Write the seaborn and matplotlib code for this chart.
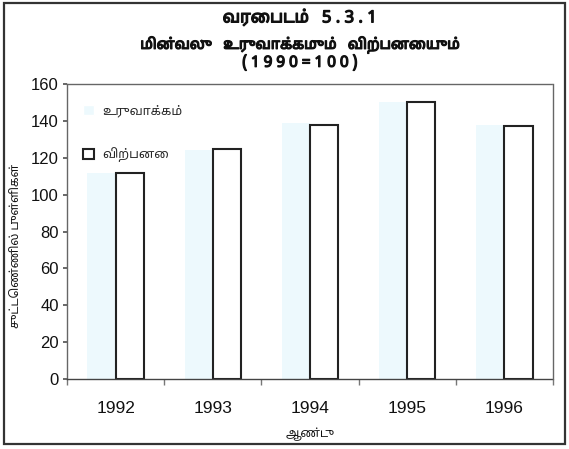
import matplotlib
matplotlib.use("Agg")
import matplotlib.pyplot as plt
import matplotlib.patheffects as pe
from matplotlib.patches import Rectangle
from matplotlib.ticker import FixedLocator
import seaborn as sns
import pandas as pd

# ---- data ----
years = ["1992", "1993", "1994", "1995", "1996"]
production = [112, 124, 139, 150, 138]   # உருவாக்கம் (very faint bars)
sales = [112, 125, 138, 150, 137]        # விற்பனை
series_names = ["உருவாக்கம்", "விற்பனை"]
yticks = [0, 20, 40, 60, 80, 100, 120, 140, 160]

title_lines = ["வரைபடம்   5 . 3 . 1", "மின்வலு   உருவாக்கமும்   விற்பனையும்",
               "( 1 9 9 0 = 1 0 0 )"]
xlabel = "ஆண்டு"
ylabel = "சுட்டெண்ணில் புள்ளிகள்"

df = pd.DataFrame({
    "year": years * 2,
    "value": production + sales,
    "series": [series_names[0]] * len(years) + [series_names[1]] * len(years),
})

sns.set_theme(style="white")
plt.rcParams["font.family"] = ["Liberation Sans", "DejaVu Sans"]

TAMIL = ["Noto Sans Tamil", "DejaVu Sans"]

fig = plt.figure(figsize=(5.69, 4.49), dpi=100, facecolor="white")
ax = fig.add_axes([67 / 569, 1 - 379 / 449, (553 - 67) / 569, (379 - 84) / 449])

sns.barplot(data=df, x="year", y="value", hue="series",
            palette=["#edf9fd", "#ffffff"], width=0.58, saturation=1,
            dodge=True, ax=ax, legend=True)

for i, cont in enumerate(ax.containers):
    for p in cont:
        if i == 0:
            p.set_edgecolor("none")
            p.set_linewidth(0)
        else:
            p.set_edgecolor("#222222")
            p.set_linewidth(1.5)

ax.set_ylim(0, 160)
ax.set_xlim(-0.5, len(years) - 0.5)
ax.set_yticks(yticks)
ax.tick_params(axis="y", labelsize=12, length=3, direction="out", pad=3,
               color="#555555", labelcolor="#111111", left=True)
ax.tick_params(axis="x", which="major", length=0, labelsize=12.5, pad=16,
               labelcolor="#111111")
ax.xaxis.set_minor_locator(FixedLocator([i + 0.5 for i in range(-1, len(years))]))
ax.tick_params(axis="x", which="minor", length=4, direction="out",
               color="#777777", bottom=True)

for s in ax.spines.values():
    s.set_visible(True)
    s.set_linestyle((0, (1, 1)))
    s.set_color("#666666")
    s.set_linewidth(1.0)
ax.spines["bottom"].set_color("#444444")

ax.set_xlabel("")
ax.set_ylabel(ylabel, family=TAMIL, fontsize=8.5, color="#111111")
ax.yaxis.set_label_coords(-0.092, 0.45)
fig.text(310 / 569, 1 - 434 / 449, xlabel, ha="center", va="center",
         family=TAMIL, fontsize=8.5, color="#111111")

# legend
handles, labels = ax.get_legend_handles_labels()
handles[1].set_edgecolor("#222222")
handles[1].set_linewidth(1.5)
leg = ax.legend(handles, labels, loc="upper left", bbox_to_anchor=(0.01, 0.97),
                frameon=False, prop={"family": TAMIL, "size": 9},
                handlelength=0.9, handleheight=0.9, handletextpad=0.6,
                labelspacing=2.4)

# title (three lines)
ys = [18, 45, 63]
sizes = [12, 10.5, 11]
for t, y, fs in zip(title_lines, ys, sizes):
    fig.text(300 / 569, 1 - y / 449, t, ha="center", va="center",
             family=TAMIL, fontweight="bold", fontsize=fs, color="#111111",
             path_effects=[pe.withStroke(linewidth=0.9, foreground="#111111")])

# outer frame
fig.patches.append(Rectangle((4 / 569, 5 / 449), 561 / 569, 441 / 449,
                             transform=fig.transFigure, fill=False,
                             edgecolor="#333333", linewidth=1.6))

fig.savefig("out.png", dpi=100, facecolor="white")
